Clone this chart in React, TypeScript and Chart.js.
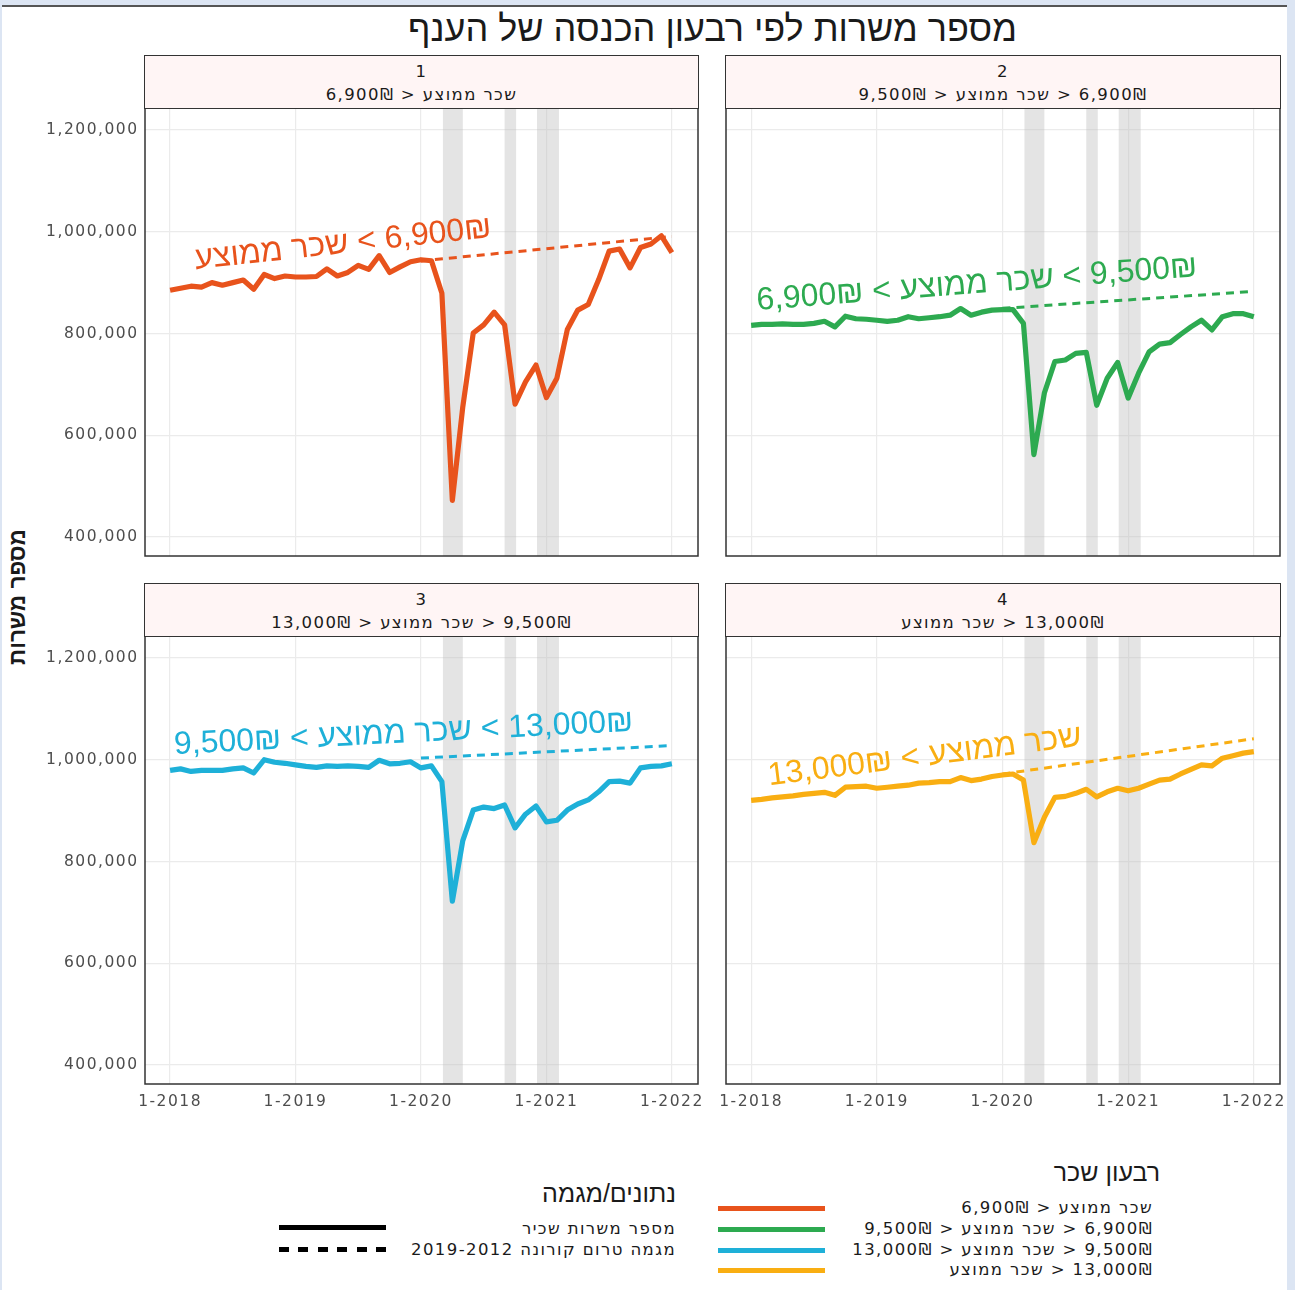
import React, { useEffect, useRef } from "react";
import { Chart, registerables } from "chart.js";

Chart.register(...registerables);

// ---------- DATA ----------
const MONTHS = [
  "2018-01", "2018-02", "2018-03", "2018-04", "2018-05", "2018-06", "2018-07", "2018-08", "2018-09", "2018-10", "2018-11", "2018-12",
  "2019-01", "2019-02", "2019-03", "2019-04", "2019-05", "2019-06", "2019-07", "2019-08", "2019-09", "2019-10", "2019-11", "2019-12",
  "2020-01", "2020-02", "2020-03", "2020-04", "2020-05", "2020-06", "2020-07", "2020-08", "2020-09", "2020-10", "2020-11", "2020-12",
  "2021-01", "2021-02", "2021-03", "2021-04", "2021-05", "2021-06", "2021-07", "2021-08", "2021-09", "2021-10", "2021-11", "2021-12",
  "2022-01",
];

const JOBS_Q1 = [
  885000, 889000, 893000, 891000, 900000, 895000, 900000, 905000, 887000, 916000, 908000, 913000,
  911000, 911000, 912000, 927000, 913000, 920000, 934000, 926000, 953000, 920000, 931000, 941000,
  945000, 943000, 879000, 472000, 656000, 801000, 817000, 842000, 817000, 661000, 705000, 738000,
  674000, 712000, 808000, 846000, 857000, 906000, 962000, 966000, 929000, 969000, 976000, 992000,
  959000,
];
const JOBS_Q2 = [
  816000, 818000, 818000, 819000, 818000, 818000, 820000, 824000, 813000, 834000, 829000, 828000,
  826000, 824000, 826000, 833000, 829000, 831000, 833000, 836000, 849000, 836000, 842000, 846000,
  847000, 847000, 820000, 562000, 683000, 745000, 748000, 761000, 763000, 659000, 712000, 743000,
  673000, 722000, 764000, 779000, 782000, 798000, 813000, 826000, 807000, 833000, 839000, 839000,
  833000,
];
const JOBS_Q3 = [
  979000, 982000, 977000, 979000, 979000, 979000, 982000, 984000, 974000, 1000000, 995000, 993000,
  990000, 987000, 985000, 988000, 987000, 988000, 987000, 985000, 999000, 992000, 993000, 996000,
  984000, 988000, 957000, 722000, 841000, 901000, 907000, 904000, 911000, 866000, 893000, 909000,
  878000, 881000, 901000, 913000, 921000, 937000, 957000, 958000, 954000, 984000, 987000, 988000,
  992000,
];
const JOBS_Q4 = [
  920000, 922000, 925000, 927000, 929000, 932000, 934000, 936000, 930000, 946000, 947000, 948000,
  944000, 946000, 948000, 950000, 954000, 955000, 957000, 957000, 965000, 959000, 962000, 967000,
  970000, 972000, 960000, 837000, 887000, 926000, 928000, 934000, 942000, 927000, 937000, 944000,
  939000, 944000, 952000, 960000, 962000, 972000, 981000, 990000, 988000, 1003000, 1008000, 1013000,
  1016000,
];

// pre-corona trend (2012-2019), drawn from Jan 2020 to Jan 2022
const TREND_FROM = "2020-01";
const TREND_TO = "2022-01";
const TREND_START = [942600, 849400, 1003300, 972000];
const TREND_END = [990800, 882700, 1027800, 1041200];

// lockdown periods (fractional month positions)
const LOCKDOWN_START = ["2020-03.1", "2020-09.0", "2020-12.1"];
const LOCKDOWN_END = ["2020-05.0", "2020-10.1", "2021-02.2"];

const QUARTILE_NUM = ["1", "2", "3", "4"];
const QUARTILE_NAMES = [
  "שכר ממוצע < 6,900₪",
  "6,900₪ < שכר ממוצע < 9,500₪",
  "9,500₪ < שכר ממוצע < 13,000₪",
  "13,000₪ < שכר ממוצע",
];
const QUARTILE_COLORS = ["#e8531c", "#2daa50", "#1eb0d8", "#f9ae12"];

const X_TICKS = ["2018-01", "2019-01", "2020-01", "2021-01", "2022-01"];
const X_TICK_LABELS = ["1-2018", "1-2019", "1-2020", "1-2021", "1-2022"];
const Y_TICKS = [400000, 600000, 800000, 1000000, 1200000];

// in-plot label anchors (month position, value) and angle
const LABEL_MONTH = [16.64, 21.61, 22.38, 16.69];
const LABEL_VALUE = [958200, 879600, 1033900, 988700];
const LABEL_ANGLE = [-6.2, -4.4, -2.9, -7.2];

const TITLE = "מספר משרות לפי רבעון הכנסה של הענף";
const Y_TITLE = "מספר משרות";
const LEGEND_COLOR_TITLE = "רבעון שכר";
const LEGEND_TYPE_TITLE = "נתונים/מגמה";
const LEGEND_TYPE_LABELS = ["מספר משרות שכיר", "מגמה טרום קורונה 2019-2012"];

const SERIES = [JOBS_Q1, JOBS_Q2, JOBS_Q3, JOBS_Q4];

// ---------- helpers ----------
const monthPos = (s: string) => {
  const [y, m] = s.split("-");
  return (parseInt(y, 10) - 2018) * 12 + (parseFloat(m) - 1);
};
// keep visual left-to-right order of tokens in the in-plot labels
const ltrLabel = (s: string) => "\u200E" + s.replace(/ < /g, "\u200E < \u200E") + "\u200E";

const X_MIN = -2.4;
const X_MAX = 50.5;
const Y_MIN = 362700;
const Y_MAX = 1243200;

const TICK_FONT = '"DejaVu Sans", sans-serif';
const HEB_FONT = '"Liberation Sans", Arimo, Arial, "DejaVu Sans", sans-serif';
const SMALL_FONT = '"DejaVu Sans", sans-serif';

const PLOTS = [
  { L: 145, T: 108, R: 698, B: 556, showX: false, showY: true },
  { L: 726, T: 108, R: 1280, B: 556, showX: false, showY: false },
  { L: 145, T: 636, R: 698, B: 1084, showX: true, showY: true },
  { L: 726, T: 636, R: 1280, B: 1084, showX: true, showY: false },
];

function Panel({ idx }: { idx: number }) {
  const ref = useRef<HTMLCanvasElement>(null);
  const p = PLOTS[idx];
  const yW = p.showY ? 125 : 0;
  const xH = p.showX ? 32 : 0;
  const padL = p.showY ? 0 : 14;
  const padT = 22;
  const padR = 14;
  const padB = p.showX ? 0 : 22;
  const cl = p.L - yW - padL;
  const ct = p.T - padT;
  const cw = p.R + padR - cl;
  const ch = p.B + xH + padB - ct;

  useEffect(() => {
    const color = QUARTILE_COLORS[idx];
    const series = SERIES[idx];

    const spacingPlugin = {
      id: "tickSpacing",
      beforeDraw(chart: any) {
        (chart.ctx as any).letterSpacing = "1.5px";
      },
    };

    const bandsPlugin = {
      id: "bands",
      beforeDatasetsDraw(chart: any) {
        const { ctx, chartArea, scales } = chart;
        ctx.save();
        ctx.fillStyle = "rgba(190,190,190,0.42)";
        for (let i = 0; i < LOCKDOWN_START.length; i++) {
          const x0 = scales.x.getPixelForValue(monthPos(LOCKDOWN_START[i]));
          const x1 = scales.x.getPixelForValue(monthPos(LOCKDOWN_END[i]));
          ctx.fillRect(x0, chartArea.top, x1 - x0, chartArea.bottom - chartArea.top);
        }
        ctx.restore();
      },
    };

    const labelPlugin = {
      id: "seriesLabel",
      afterDatasetsDraw(chart: any) {
        const { ctx, scales } = chart;
        const x = scales.x.getPixelForValue(LABEL_MONTH[idx]);
        const y = scales.y.getPixelForValue(LABEL_VALUE[idx]);
        ctx.save();
        (ctx as any).letterSpacing = "0px";
        ctx.translate(x, y);
        ctx.rotate((LABEL_ANGLE[idx] * Math.PI) / 180);
        ctx.font = `32px ${HEB_FONT}`;
        ctx.fillStyle = color;
        ctx.textAlign = "center";
        ctx.textBaseline = "alphabetic";
        (ctx as any).direction = "ltr";
        ctx.fillText(ltrLabel(QUARTILE_NAMES[idx]), 0, 0);
        ctx.restore();
      },
    };

    const borderPlugin = {
      id: "panelBorder",
      afterDraw(chart: any) {
        const { ctx, chartArea } = chart;
        ctx.save();
        ctx.strokeStyle = "#333333";
        ctx.lineWidth = 1.5;
        ctx.strokeRect(chartArea.left, chartArea.top, chartArea.right - chartArea.left, chartArea.bottom - chartArea.top);
        ctx.restore();
      },
    };

    const chart = new Chart(ref.current as HTMLCanvasElement, {
      type: "line",
      data: {
        datasets: [
          {
            data: series.map((v, i) => ({ x: monthPos(MONTHS[i]), y: v })),
            borderColor: color,
            borderWidth: 5.2,
            pointRadius: 0,
            tension: 0,
            borderJoinStyle: "round",
            borderCapStyle: "butt",
            order: 1,
          },
          {
            data: [
              { x: monthPos(TREND_FROM), y: TREND_START[idx] },
              { x: monthPos(TREND_TO), y: TREND_END[idx] },
            ],
            borderColor: color,
            borderWidth: 3,
            borderDash: [8, 6],
            pointRadius: 0,
            tension: 0,
            order: 2,
          },
        ],
      },
      options: {
        animation: false,
        responsive: false,
        maintainAspectRatio: false,
        layout: { padding: { left: padL, top: padT, right: padR, bottom: padB } },
        plugins: { legend: { display: false }, tooltip: { enabled: false } },
        scales: {
          x: {
            type: "linear",
            min: X_MIN,
            max: X_MAX,
            afterBuildTicks: (ax: any) => {
              ax.ticks = X_TICKS.map((t) => ({ value: monthPos(t) }));
            },
            afterFit: (ax: any) => {
              ax.height = xH;
            },
            ticks: {
              display: p.showX,
              autoSkip: false,
              maxRotation: 0,
              padding: 9,
              color: "#4d4d4d",
              font: { family: TICK_FONT, size: 15.5 },
              callback: (v: any) => {
                const k = X_TICKS.findIndex((t) => monthPos(t) === v);
                return k >= 0 ? X_TICK_LABELS[k] : "";
              },
            },
            grid: { color: "#ebebeb", lineWidth: 1.2, drawTicks: false },
            border: { display: false },
          },
          y: {
            type: "linear",
            min: Y_MIN,
            max: Y_MAX,
            afterBuildTicks: (ax: any) => {
              ax.ticks = Y_TICKS.map((v) => ({ value: v }));
            },
            afterFit: (ax: any) => {
              ax.width = yW;
            },
            ticks: {
              display: p.showY,
              padding: 6.5,
              color: "#4d4d4d",
              font: { family: TICK_FONT, size: 15.5 },
              callback: (v: any) => Number(v).toLocaleString("en-US"),
            },
            grid: { color: "#ebebeb", lineWidth: 1.2, drawTicks: false },
            border: { display: false },
          },
        },
      } as any,
      plugins: [spacingPlugin, bandsPlugin, labelPlugin, borderPlugin],
    } as any);
    return () => chart.destroy();
  }, []);

  return (
    <canvas
      ref={ref}
      width={cw}
      height={ch}
      style={{ position: "absolute", left: cl, top: ct, width: cw, height: ch }}
    />
  );
}

const smallText: any = {
  fontFamily: SMALL_FONT,
  fontSize: 16.5,
  letterSpacing: "1.4px",
  color: "#1a1a1a",
};

function Strip({ idx }: { idx: number }) {
  const p = PLOTS[idx];
  return (
    <div
      style={{
        position: "absolute",
        left: p.L - 0.75,
        top: p.T - 53,
        width: p.R - p.L + 1.5,
        height: 54,
        boxSizing: "border-box",
        border: "1.5px solid #333",
        background: "#fff5f5",
        zIndex: 2,
        textAlign: "center",
        ...smallText,
      }}
    >
      <div style={{ position: "absolute", left: 0, right: 0, top: 6, lineHeight: "20px" }}>{QUARTILE_NUM[idx]}</div>
      <div dir="rtl" style={{ position: "absolute", left: 0, right: 0, top: 29, lineHeight: "20px" }}>
        {QUARTILE_NAMES[idx]}
      </div>
    </div>
  );
}

function Txt({ x, y, size, align, children, title }: any) {
  const style: any = {
    position: "absolute",
    top: y - size * 0.65,
    lineHeight: `${Math.round(size * 1.3)}px`,
    whiteSpace: "nowrap",
    ...(title
      ? { fontFamily: HEB_FONT, fontSize: size, color: "#1a1a1a" }
      : { ...smallText, fontSize: size }),
  };
  if (align === "right") style.right = 1295 - x;
  else style.left = x;
  return (
    <div dir="rtl" style={style}>
      {children}
    </div>
  );
}

export default function App() {
  const legendRowsY = [1208, 1229, 1250, 1270];
  return (
    <div
      style={{
        position: "absolute",
        left: 0,
        top: 0,
        width: 1295,
        height: 1290,
        overflow: "hidden",
        background: "#dce5f3",
      }}
    >
      <div style={{ position: "absolute", left: 2, top: 6, width: 1285, height: 1284, background: "#ffffff" }} />
      <div style={{ position: "absolute", left: 2, top: 5, width: 1285, height: 1.5, background: "#555" }} />

      <div
        dir="rtl"
        style={{
          position: "absolute",
          left: 145,
          width: 1135,
          top: 8,
          textAlign: "center",
          fontFamily: HEB_FONT,
          fontSize: 36,
          lineHeight: "42px",
          color: "#1a1a1a",
        }}
      >
        {TITLE}
      </div>

      <div
        dir="rtl"
        style={{
          position: "absolute",
          left: 18 - 100,
          top: 597 - 14,
          width: 200,
          height: 28,
          lineHeight: "28px",
          textAlign: "center",
          transform: "rotate(-90deg)",
          fontFamily: HEB_FONT,
          fontWeight: "bold",
          fontSize: 22.5,
          color: "#1a1a1a",
        }}
      >
        {Y_TITLE}
      </div>

      {[0, 1, 2, 3].map((i) => (
        <Panel key={"p" + i} idx={i} />
      ))}
      {[0, 1, 2, 3].map((i) => (
        <Strip key={"s" + i} idx={i} />
      ))}

      {/* legend: colour */}
      <Txt x={1160} y={1172} size={25} align="right" title>
        {LEGEND_COLOR_TITLE}
      </Txt>
      {QUARTILE_NAMES.map((n, i) => (
        <React.Fragment key={"lc" + i}>
          <div
            style={{
              position: "absolute",
              left: 718,
              top: legendRowsY[i] - 2.5,
              width: 107,
              height: 5,
              background: QUARTILE_COLORS[i],
            }}
          />
          <Txt x={1153} y={legendRowsY[i]} size={16.5} align="right">
            {n}
          </Txt>
        </React.Fragment>
      ))}

      {/* legend: type */}
      <Txt x={676} y={1193} size={25} align="right" title>
        {LEGEND_TYPE_TITLE}
      </Txt>
      <div style={{ position: "absolute", left: 279, top: 1227 - 2.5, width: 107, height: 5, background: "#000" }} />
      <div
        style={{
          position: "absolute",
          left: 279,
          top: 1249 - 2.5,
          width: 107,
          height: 5,
          background: "repeating-linear-gradient(to right, #000 0px, #000 10px, transparent 10px, transparent 19.4px)",
        }}
      />
      <Txt x={676} y={1229} size={16.5} align="right">
        {LEGEND_TYPE_LABELS[0]}
      </Txt>
      <Txt x={676} y={1250} size={16.5} align="right">
        {LEGEND_TYPE_LABELS[1]}
      </Txt>
    </div>
  );
}
